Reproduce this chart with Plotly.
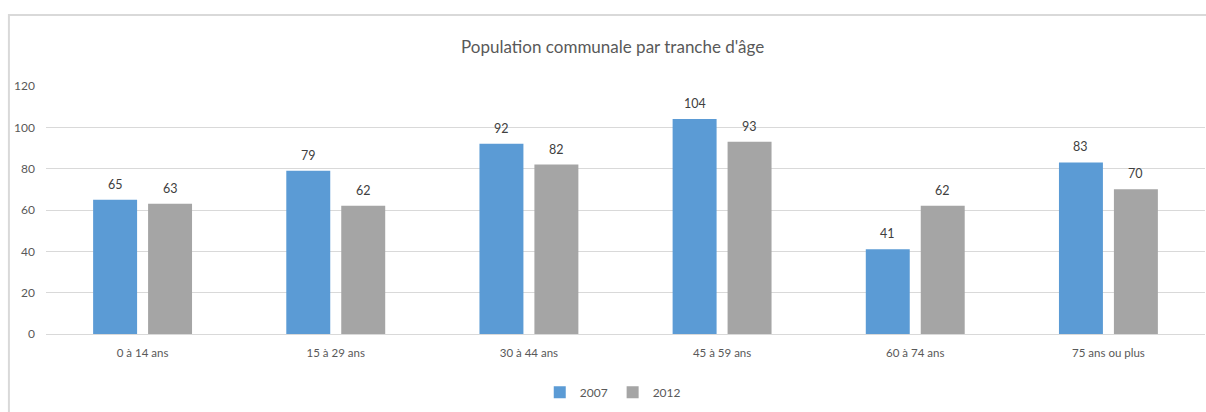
import plotly.graph_objects as go

categories = ["0 à 14 ans", "15 à 29 ans", "30 à 44 ans", "45 à 59 ans", "60 à 74 ans", "75 ans ou plus"]
series_names = ["2007", "2012"]
values_2007 = [65, 79, 92, 104, 41, 83]
values_2012 = [63, 62, 82, 93, 62, 70]
y_ticks = [0, 20, 40, 60, 80, 100, 120]

colors = ["#5B9BD5", "#A5A5A5"]
FONT = "Lato, sans-serif"

fig = go.Figure()
for name, vals, col in zip(series_names, [values_2007, values_2012], colors):
    fig.add_trace(go.Bar(
        x=categories, y=vals, name=name,
        marker=dict(color=col, line=dict(width=0)),
    ))

# data labels above bars
annotations = []
for vals, shift in [(values_2007, -27.5), (values_2012, 27.5)]:
    for c, v in zip(categories, vals):
        annotations.append(dict(
            x=c, y=v, xref="x", yref="y", text=str(v), showarrow=False,
            xshift=shift, yshift=6, yanchor="bottom",
            font=dict(family=FONT, size=12.5, color="#404040"),
        ))

fig.update_layout(
    width=1206, height=412,
    margin=dict(l=46, r=1, t=86, b=78),
    paper_bgcolor="white", plot_bgcolor="white",
    barmode="group", bargap=0.431, bargroupgap=0.2,
    title=dict(text="Population communale par tranche d'âge",
               x=0.508, xanchor="center", y=0.885, yanchor="middle",
               font=dict(family=FONT, size=17, color="#595959")),
    font=dict(family=FONT, color="#595959"),
    showlegend=True,
    legend=dict(orientation="h", x=0.489, xanchor="center", y=-0.235, yanchor="middle",
                font=dict(family=FONT, size=12, color="#595959"),
                itemwidth=30, traceorder="normal"),
    xaxis=dict(showgrid=False, showline=True, linecolor="#D9D9D9", linewidth=1,
               ticks="", tickfont=dict(family=FONT, size=11.5, color="#595959"),
               ticklabelstandoff=8),
    yaxis=dict(range=[0, 120], tickvals=y_ticks, showgrid=True, gridcolor="#D9D9D9",
               gridwidth=1, zeroline=False, showline=False, ticks="",
               tickfont=dict(family=FONT, size=12, color="#595959"),
               ticklabelstandoff=10),
    annotations=annotations,
    shapes=[dict(type="rect", xref="paper", yref="paper",
                 x0=-0.032, x1=1.02, y0=-0.4, y1=1.286,
                 line=dict(color="#D9D9D9", width=2), fillcolor="rgba(0,0,0,0)", layer="below")],
)

fig.write_html("out.html", config={"displayModeBar": False},
               post_script="document.body.style.margin='0';document.body.style.overflow='hidden';")
